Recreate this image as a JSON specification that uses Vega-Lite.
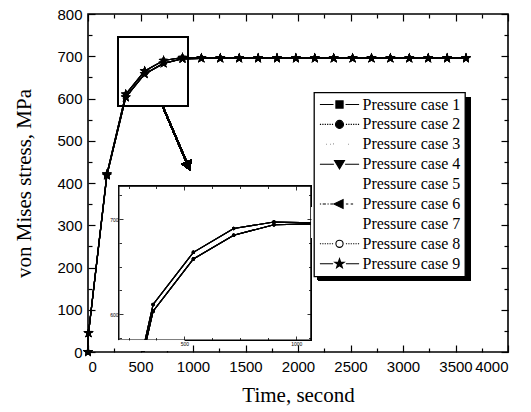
{
  "$schema": "https://vega.github.io/schema/vega-lite/v6.json",
  "width": 420,
  "height": 338,
  "autosize": "none",
  "padding": {"left": 88, "top": 14, "right": 23, "bottom": 60},
  "background": "white",
  "data": {"values": [
    {"t":0,"Pressure case 1":0,"Pressure case 2":0,"Pressure case 3":0,"Pressure case 4":0,"Pressure case 5":0,"Pressure case 6":0,"Pressure case 7":0,"Pressure case 8":0,"Pressure case 9":0},
    {"t":5,"Pressure case 1":45,"Pressure case 2":45,"Pressure case 3":45,"Pressure case 4":45,"Pressure case 5":45,"Pressure case 6":45,"Pressure case 7":45,"Pressure case 8":45,"Pressure case 9":45},
    {"t":180,"Pressure case 1":418,"Pressure case 2":418,"Pressure case 3":418,"Pressure case 4":418,"Pressure case 5":418,"Pressure case 6":421,"Pressure case 7":421,"Pressure case 8":421,"Pressure case 9":421},
    {"t":360,"Pressure case 1":603,"Pressure case 2":603,"Pressure case 3":603,"Pressure case 4":603,"Pressure case 5":603,"Pressure case 6":610,"Pressure case 7":610,"Pressure case 8":610,"Pressure case 9":610},
    {"t":540,"Pressure case 1":658,"Pressure case 2":658,"Pressure case 3":658,"Pressure case 4":658,"Pressure case 5":658,"Pressure case 6":665,"Pressure case 7":665,"Pressure case 8":665,"Pressure case 9":665},
    {"t":720,"Pressure case 1":683,"Pressure case 2":683,"Pressure case 3":683,"Pressure case 4":683,"Pressure case 5":683,"Pressure case 6":690,"Pressure case 7":690,"Pressure case 8":690,"Pressure case 9":690},
    {"t":900,"Pressure case 1":694,"Pressure case 2":694,"Pressure case 3":694,"Pressure case 4":694,"Pressure case 5":694,"Pressure case 6":697,"Pressure case 7":697,"Pressure case 8":697,"Pressure case 9":697},
    {"t":1080,"Pressure case 1":695,"Pressure case 2":695,"Pressure case 3":695,"Pressure case 4":695,"Pressure case 5":695,"Pressure case 6":696,"Pressure case 7":696,"Pressure case 8":696,"Pressure case 9":696},
    {"t":1260,"Pressure case 1":695,"Pressure case 2":695,"Pressure case 3":695,"Pressure case 4":695,"Pressure case 5":695,"Pressure case 6":696,"Pressure case 7":696,"Pressure case 8":696,"Pressure case 9":696},
    {"t":1440,"Pressure case 1":695,"Pressure case 2":695,"Pressure case 3":695,"Pressure case 4":695,"Pressure case 5":695,"Pressure case 6":696,"Pressure case 7":696,"Pressure case 8":696,"Pressure case 9":696},
    {"t":1620,"Pressure case 1":695,"Pressure case 2":695,"Pressure case 3":695,"Pressure case 4":695,"Pressure case 5":695,"Pressure case 6":696,"Pressure case 7":696,"Pressure case 8":696,"Pressure case 9":696},
    {"t":1800,"Pressure case 1":695,"Pressure case 2":695,"Pressure case 3":695,"Pressure case 4":695,"Pressure case 5":695,"Pressure case 6":696,"Pressure case 7":696,"Pressure case 8":696,"Pressure case 9":696},
    {"t":1980,"Pressure case 1":695,"Pressure case 2":695,"Pressure case 3":695,"Pressure case 4":695,"Pressure case 5":695,"Pressure case 6":696,"Pressure case 7":696,"Pressure case 8":696,"Pressure case 9":696},
    {"t":2160,"Pressure case 1":695,"Pressure case 2":695,"Pressure case 3":695,"Pressure case 4":695,"Pressure case 5":695,"Pressure case 6":696,"Pressure case 7":696,"Pressure case 8":696,"Pressure case 9":696},
    {"t":2340,"Pressure case 1":695,"Pressure case 2":695,"Pressure case 3":695,"Pressure case 4":695,"Pressure case 5":695,"Pressure case 6":696,"Pressure case 7":696,"Pressure case 8":696,"Pressure case 9":696},
    {"t":2520,"Pressure case 1":695,"Pressure case 2":695,"Pressure case 3":695,"Pressure case 4":695,"Pressure case 5":695,"Pressure case 6":696,"Pressure case 7":696,"Pressure case 8":696,"Pressure case 9":696},
    {"t":2700,"Pressure case 1":695,"Pressure case 2":695,"Pressure case 3":695,"Pressure case 4":695,"Pressure case 5":695,"Pressure case 6":696,"Pressure case 7":696,"Pressure case 8":696,"Pressure case 9":696},
    {"t":2880,"Pressure case 1":695,"Pressure case 2":695,"Pressure case 3":695,"Pressure case 4":695,"Pressure case 5":695,"Pressure case 6":696,"Pressure case 7":696,"Pressure case 8":696,"Pressure case 9":696},
    {"t":3060,"Pressure case 1":695,"Pressure case 2":695,"Pressure case 3":695,"Pressure case 4":695,"Pressure case 5":695,"Pressure case 6":696,"Pressure case 7":696,"Pressure case 8":696,"Pressure case 9":696},
    {"t":3240,"Pressure case 1":695,"Pressure case 2":695,"Pressure case 3":695,"Pressure case 4":695,"Pressure case 5":695,"Pressure case 6":696,"Pressure case 7":696,"Pressure case 8":696,"Pressure case 9":696},
    {"t":3420,"Pressure case 1":695,"Pressure case 2":695,"Pressure case 3":695,"Pressure case 4":695,"Pressure case 5":695,"Pressure case 6":696,"Pressure case 7":696,"Pressure case 8":696,"Pressure case 9":696},
    {"t":3600,"Pressure case 1":695,"Pressure case 2":695,"Pressure case 3":695,"Pressure case 4":695,"Pressure case 5":695,"Pressure case 6":696,"Pressure case 7":696,"Pressure case 8":696,"Pressure case 9":696}
  ]},
  "transform": [
    {"fold": ["Pressure case 1","Pressure case 2","Pressure case 3","Pressure case 4","Pressure case 5","Pressure case 6","Pressure case 7","Pressure case 8","Pressure case 9"], "as": ["c","s"]}
  ],
  "layer": [
    {
      "resolve": {"axis": {"x": "independent", "y": "independent"}},
      "layer": [
        {
          "mark": {"type": "line", "color": "black", "strokeWidth": 1.2},
          "encoding": {
            "x": {"field": "t", "type": "quantitative", "scale": {"domain": [0, 4000], "nice": false, "zero": false},
              "axis": {"orient": "bottom", "title": "Time, second", "values": [0,250,500,750,1000,1250,1500,1750,2000,2250,2500,2750,3000,3250,3500,3750,4000],
                "labelExpr": "datum.value % 500 === 0 ? datum.label : ''", "format": "d",
                "tickSize": {"condition": {"test": "datum.value % 500 === 0", "value": -7}, "value": -4},
                "labelPadding": 14, "titlePadding": 10}},
            "y": {"field": "s", "type": "quantitative", "scale": {"domain": [0, 800], "nice": false, "zero": false},
              "axis": {"orient": "left", "title": "von Mises stress, MPa", "values": [0,50,100,150,200,250,300,350,400,450,500,550,600,650,700,750,800],
                "labelExpr": "datum.value % 100 === 0 ? datum.label : ''", "format": "d",
                "tickSize": {"condition": {"test": "datum.value % 100 === 0", "value": -7}, "value": -4},
                "labelPadding": 13, "titlePadding": 22}},
            "detail": {"field": "c"}
          }
        },
        {
          "mark": {"type": "point", "filled": true, "color": "black", "size": 55, "opacity": 1,
            "shape": "M0,-1.4L0.33,-0.45L1.33,-0.43L0.53,0.17L0.82,1.13L0,0.56L-0.82,1.13L-0.53,0.17L-1.33,-0.43L-0.33,-0.45Z"},
          "encoding": {
            "x": {"field": "t", "type": "quantitative",
              "axis": {"orient": "top", "title": null, "labels": false, "values": [0,250,500,750,1000,1250,1500,1750,2000,2250,2500,2750,3000,3250,3500,3750,4000],
                "tickSize": {"condition": {"test": "datum.value % 500 === 0", "value": -7}, "value": -4}}},
            "y": {"field": "s", "type": "quantitative",
              "axis": {"orient": "right", "title": null, "labels": false, "values": [0,50,100,150,200,250,300,350,400,450,500,550,600,650,700,750,800],
                "tickSize": {"condition": {"test": "datum.value % 100 === 0", "value": -7}, "value": -4}}},
            "detail": {"field": "c"}
          }
        },
        {
          "mark": {"type": "rect", "color": "black"},
          "encoding": {
            "x": {"datum": 2190, "type": "quantitative", "axis": null},
            "x2": {"datum": 3640},
            "y": {"datum": 603, "type": "quantitative", "axis": null},
            "y2": {"datum": 170}
          }
        },
        {
          "mark": {"type": "rect", "fill": "white", "fillOpacity": 0, "stroke": "black", "strokeWidth": 1.6},
          "encoding": {
            "x": {"datum": 286, "type": "quantitative", "axis": null},
            "x2": {"datum": 952},
            "y": {"datum": 582, "type": "quantitative", "axis": null},
            "y2": {"datum": 745}
          }
        },
        {
          "mark": {"type": "rule", "color": "black", "strokeWidth": 1.5},
          "encoding": {
            "x": {"datum": 714, "type": "quantitative", "axis": null},
            "x2": {"datum": 955},
            "y": {"datum": 580, "type": "quantitative", "axis": null},
            "y2": {"datum": 440}
          }
        },
        {
          "mark": {"type": "point", "shape": "triangle-down", "filled": true, "color": "black", "size": 130, "angle": -23, "opacity": 1},
          "encoding": {
            "x": {"datum": 955, "type": "quantitative", "axis": null},
            "y": {"datum": 440, "type": "quantitative", "axis": null}
          }
        },
        {
          "transform": [{"filter": "false"}],
          "mark": {"type": "point", "filled": true, "opacity": 1, "size": 64},
          "encoding": {
            "x": {"field": "t", "type": "quantitative", "axis": null},
            "y": {"field": "s", "type": "quantitative", "axis": null},
            "shape": {"field": "c", "type": "nominal",
              "scale": {"domain": ["Pressure case 1","Pressure case 2","Pressure case 3","Pressure case 4","Pressure case 5","Pressure case 6","Pressure case 7","Pressure case 8","Pressure case 9"],
                "range": [
                  "M-4.9,0H-1.5M1.5,0H4.9M-0.9,-0.9H0.9V0.9H-0.9Z",
                  "M-4.9,0H-4.6M-4.3,0H-4M-3.7,0H-3.4M-3.1,0H-2.8M-2.5,0H-2.2M-1.9,0H-1.6M1.6,0H1.9M2.2,0H2.5M2.8,0H3.1M3.4,0H3.7M4,0H4.3M4.6,0H4.9M-1,0A1,1,0,1,0,1,0A1,1,0,1,0,-1,0Z",
                  "M-3.3,0H-3.2M-2.3,0H-2.2M-1.5,-0.1H-1.4M2.2,0H2.3",
                  "M-4.9,0H-1.4M1.4,0H4.9M-1.25,-0.9H1.25L0,1.2Z",
                  "M0,0",
                  "M-4.9,0H-4.6M-4.2,0H-3.4M-3,0H-2.7M-2.3,0H-1.6M-1.4,0L0.9,-1.1V1.1ZM1.6,0H2.2M2.8,0H3.4",
                  "M0,0",
                  "M-4.9,0H-4.6M-4.3,0H-4M-3.7,0H-3.4M-3.1,0H-2.8M-2.5,0H-2.2M-1.9,0H-1.6M1.6,0H1.9M2.2,0H2.5M2.8,0H3.1M3.4,0H3.7M4,0H4.3M4.6,0H4.9M-0.9,0A0.9,0.9,0,1,0,0.9,0A0.9,0.9,0,1,0,-0.9,0Z",
                  "M-4.9,0H-1.6M1.6,0H4.9M0,-1.25L0.294,-0.405L1.189,-0.386L0.476,0.155L0.735,1.011L0,0.5L-0.735,1.011L-0.476,0.155L-1.189,-0.386L-0.294,-0.405Z"
                ]},
              "legend": {"orient": "none", "legendX": 226, "legendY": 78.5, "title": null, "direction": "vertical", "padding": 4, "rowPadding": 3.9,
                "symbolSize": 64, "symbolOffset": 13.5, "labelOffset": 15, "labelFont": "Liberation Serif", "labelFontSize": 16, "labelColor": "black", "labelLimit": 0,
                "strokeColor": "black", "fillColor": "white", "zindex": 1, "symbolStrokeColor": "black", "symbolStrokeWidth": 1.1, "symbolOpacity": 1,
                "encode": {"legend": {"update": {"strokeWidth": {"value": 1.3}}}}}},
            "fill": {"field": "c", "type": "nominal",
              "scale": {"domain": ["Pressure case 1","Pressure case 2","Pressure case 3","Pressure case 4","Pressure case 5","Pressure case 6","Pressure case 7","Pressure case 8","Pressure case 9"],
                "range": ["black","black","black","black","black","black","black","white","black"]},
              "legend": {"orient": "none", "legendX": 226, "legendY": 78.5, "title": null, "direction": "vertical", "padding": 4, "rowPadding": 3.9,
                "symbolSize": 64, "symbolOffset": 13.5, "labelOffset": 15, "labelFont": "Liberation Serif", "labelFontSize": 16, "labelColor": "black", "labelLimit": 0,
                "strokeColor": "black", "fillColor": "white", "zindex": 1, "symbolStrokeColor": "black", "symbolStrokeWidth": 1.1, "symbolOpacity": 1,
                "encode": {"legend": {"update": {"strokeWidth": {"value": 1.3}}}}}}
          }
        }
      ]
    },
    {
      "resolve": {"axis": {"x": "independent", "y": "independent"}},
      "layer": [
        {
          "mark": {"type": "rect", "fill": "white", "stroke": "black", "strokeWidth": 1.2},
          "encoding": {
            "x": {"datum": 207, "type": "quantitative", "scale": {"domain": [69, 1946], "nice": false, "zero": false},
              "axis": {"orient": "bottom", "offset": -12, "title": null, "values": [250,375,500,625,750,875,1000],
                "labelExpr": "datum.value % 500 === 0 ? datum.label : ''", "format": "d", "labelFontSize": 5, "labelPadding": 5,
                "tickSize": {"condition": {"test": "datum.value % 500 === 0", "value": -4}, "value": -2.5}, "tickWidth": 0.8, "zindex": 2}},
            "x2": {"datum": 1065},
            "y": {"datum": 572.6, "type": "quantitative", "scale": {"domain": [560, 916], "nice": false, "zero": false},
              "axis": {"orient": "left", "offset": -31, "title": null, "values": [575,600,625,650,675,700,725],
                "labelExpr": "datum.value % 100 === 0 ? datum.label : ''", "format": "d", "labelFontSize": 5, "labelPadding": 5,
                "tickSize": {"condition": {"test": "datum.value % 100 === 0", "value": -4}, "value": -2.5}, "tickWidth": 0.8, "zindex": 2}},
            "y2": {"datum": 734.7}
          }
        },
        {
          "transform": [{"filter": "datum.t >= 180 && datum.t <= 1080"}],
          "mark": {"type": "line", "color": "black", "strokeWidth": 1.1, "clip": true},
          "encoding": {
            "x": {"field": "t", "type": "quantitative",
              "axis": {"orient": "top", "offset": -172, "title": null, "labels": false, "values": [250,375,500,625,750,875,1000],
                "tickSize": {"condition": {"test": "datum.value % 500 === 0", "value": -4}, "value": -2.5}, "tickWidth": 0.8, "zindex": 2}},
            "y": {"field": "s", "type": "quantitative",
              "axis": {"orient": "right", "offset": -197, "title": null, "labels": false, "values": [575,600,625,650,675,700,725],
                "tickSize": {"condition": {"test": "datum.value % 100 === 0", "value": -4}, "value": -2.5}, "tickWidth": 0.8, "zindex": 2}},
            "detail": {"field": "c"}
          }
        },
        {
          "transform": [{"filter": "datum.t >= 360 && datum.t <= 900"}],
          "mark": {"type": "point", "filled": true, "color": "black", "size": 12, "opacity": 1},
          "encoding": {
            "x": {"field": "t", "type": "quantitative", "axis": null},
            "y": {"field": "s", "type": "quantitative", "axis": null}
          }
        },
        {
          "mark": {"type": "rect", "color": "white"},
          "encoding": {
            "x": {"datum": 207, "type": "quantitative", "axis": null},
            "x2": {"datum": 500},
            "y": {"datum": 561.2, "type": "quantitative", "axis": null},
            "y2": {"datum": 571.9}
          }
        },
        {
          "mark": {"type": "rect", "color": "white"},
          "encoding": {
            "x": {"datum": 1069, "type": "quantitative", "axis": null},
            "x2": {"datum": 1090},
            "y": {"datum": 680, "type": "quantitative", "axis": null},
            "y2": {"datum": 712}
          }
        }
      ]
    }
  ],
  "resolve": {"scale": {"x": "independent", "y": "independent"}},
  "config": {
    "view": {"stroke": "black", "strokeWidth": 1.6},
    "axis": {"grid": false, "domain": false, "tickColor": "black", "tickWidth": 1.2, "labelColor": "black", "titleColor": "black",
      "labelFont": "Liberation Sans", "labelFontSize": 15, "titleFont": "Liberation Serif", "titleFontSize": 21, "titleFontWeight": "normal", "zindex": 1}
  }
}
